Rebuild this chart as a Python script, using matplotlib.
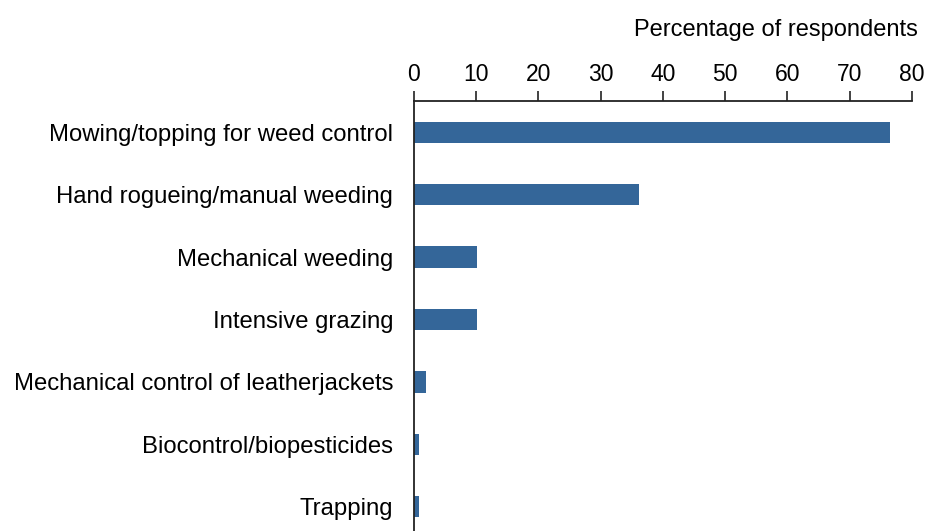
import matplotlib
matplotlib.use("Agg")
import matplotlib.pyplot as plt
import numpy as np

plt.rcParams['font.family'] = ['Liberation Sans', 'DejaVu Sans']

# methods and share of respondents using them (%)
methods = [
    "Mowing/topping for weed control",
    "Hand rogueing/manual weeding",
    "Mechanical weeding",
    "Intensive grazing",
    "Mechanical control of leatherjackets",
    "Biocontrol/biopesticides",
    "Trapping",
]
percent = [76.5, 36.1, 10.1, 10.1, 2.0, 0.8, 0.8]
xticks = [0, 10, 20, 30, 40, 50, 60, 70, 80]

fig = plt.figure(figsize=(9.29, 5.31), dpi=100)
# axes runs off the bottom of the figure, like the cropped original
ax = fig.add_axes([414 / 929, -7 / 531, (912 - 414) / 929, 437 / 531])

y = np.arange(len(methods))
ax.barh(y, percent, height=0.34, color='#346699')

ax.set_xlim(0, 80)
ax.set_ylim(6.5, -0.5)
ax.set_xticks(xticks)
ax.set_yticks(y)
ax.set_yticklabels(methods, fontsize=17.2)

ax.xaxis.tick_top()
ax.tick_params(axis='x', direction='out', length=7, width=1.2, pad=4,
               labelsize=16.5, colors='#222222', labelcolor='black')
ax.tick_params(axis='y', length=0, pad=15, labelcolor='black')

ax.spines['right'].set_visible(False)
ax.spines['bottom'].set_visible(False)
for s in ['left', 'top']:
    ax.spines[s].set_color('#222222')
    ax.spines[s].set_linewidth(1.3)

fig.text(918 / 929, 1 - 36 / 531, "Percentage of respondents",
         ha='right', va='baseline', fontsize=17)

fig.savefig("out.png", dpi=100)
